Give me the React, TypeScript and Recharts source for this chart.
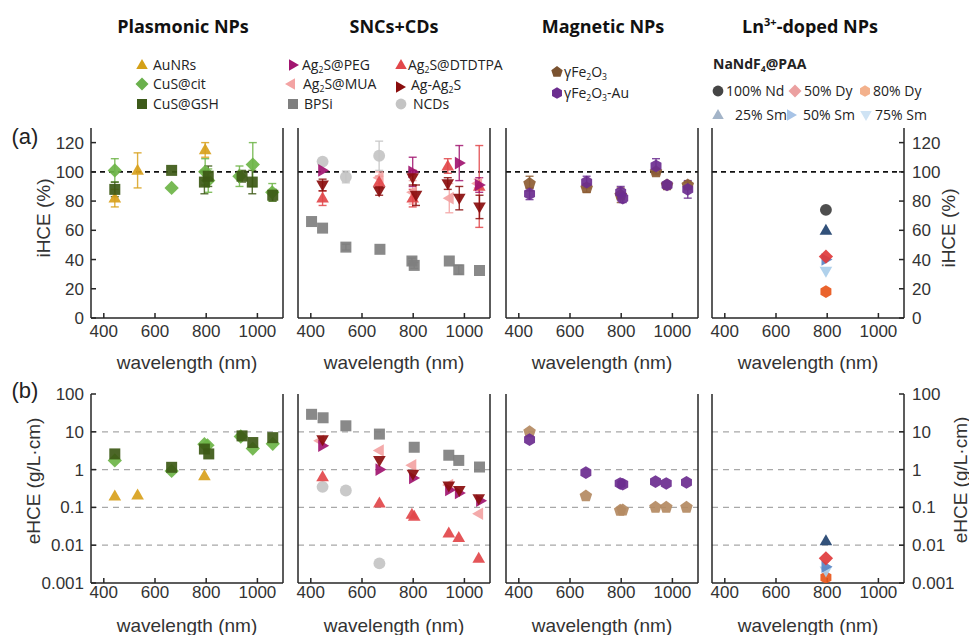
import React from 'react';
import { ScatterChart, Scatter, XAxis, YAxis, ErrorBar, ReferenceLine } from 'recharts';

// ---------- data: [wavelength (nm), value, error] ----------
// (a) iHCE (%)
const auNRsI = [[443, 82, 6], [532, 101, 12], [796, 115, 5]];
const cusCitI = [[443, 101, 8], [665, 89, 0], [796, 100, 9], [808, 94, 8], [930, 97, 7], [982, 105, 15], [1058, 86, 6]];
const cusGshI = [[443, 88, 5], [665, 101, 0], [793, 93, 8], [808, 97, 7], [940, 97, 4], [980, 93, 8], [1060, 84, 4]];

const bpsiI = [[403, 66, 0], [446, 61.5, 0], [537, 48.5, 2], [670, 47, 0], [795, 39, 2], [804, 36, 2], [941, 39, 0], [978, 33, 3], [1059, 32.5, 0]];
const ncdsI = [[446, 107, 0], [537, 96.5, 4], [667, 111, 10]];
const pegI = [[446, 101, 0], [798, 100, 10], [980, 106, 12], [1058, 91, 5]];
const dtdtpaI = [[446, 82, 5], [667, 93, 4], [798, 82, 6], [935, 104, 5], [1058, 90, 28]];
const muaI = [[667, 96, 4], [798, 86, 8], [941, 82, 10], [1052, 92, 3]];
const agAgI = [[446, 91, 4], [667, 87, 3], [798, 96, 5], [811, 84, 7], [935, 92, 4], [980, 82, 8], [1059, 76, 8]];

const feI = [[442, 92, 5], [665, 89, 3], [798, 84, 5], [936, 100, 2], [979, 91, 2], [1060, 91, 2]];
const feAuI = [[442, 85, 4], [665, 93, 4], [798, 86, 4], [806, 82, 3], [936, 104, 5], [979, 91, 2], [1060, 88, 6]];

const nd100I = [[795, 74, 0]];
const sm25I = [[795, 60, 0]];
const dy50I = [[795, 42, 0]];
const sm50I = [[795, 40, 0]];
const sm75I = [[795, 32, 0]];
const dy80I = [[795, 18, 0]];

// (b) eHCE (g/L·cm)
const auNRsE = [[443, 0.2], [532, 0.21], [793, 0.68]];
const cusCitE = [[443, 1.75], [665, 0.92], [793, 4.7], [805, 4.4], [935, 7.5], [982, 3.6], [1060, 4.8]];
const cusGshE = [[443, 2.6], [665, 1.15], [793, 3.5], [810, 2.6], [940, 7.8], [982, 5.2], [1060, 7.0]];

const bpsiE = [[403, 29], [448, 23.5], [537, 14.4], [668, 8.7], [804, 3.9], [939, 2.4], [978, 1.75], [1059, 1.17]];
const ncdsE = [[446, 0.35], [537, 0.28], [668, 0.0033]];
const pegE = [[446, 4.3], [670, 1.0], [801, 0.6], [942, 0.29], [980, 0.24], [1063, 0.15]];
const dtdtpaE = [[446, 0.64], [668, 0.13], [795, 0.065], [804, 0.058], [939, 0.021], [978, 0.016], [1056, 0.0045]];
const muaE = [[435, 5.8], [668, 3.2], [795, 1.3], [939, 0.39], [1056, 0.068]];
const agAgE = [[446, 6.2], [668, 1.75], [799, 0.76], [939, 0.37], [980, 0.28], [1056, 0.17]];

const feE = [[442, 10], [662, 0.2], [796, 0.083], [806, 0.085], [934, 0.1], [976, 0.1], [1055, 0.1]];
const feAuE = [[442, 6.2], [662, 0.83], [796, 0.43], [806, 0.41], [934, 0.48], [976, 0.43], [1055, 0.46]];

const sm25E = [[795, 0.013]];
const dy50E = [[795, 0.0045]];
const sm50E = [[795, 0.0027]];
const sm75E = [[795, 0.0021]];
const dy80E = [[795, 0.0014]];

// ---------- axes ----------
const X_DOMAIN = [350, 1100];
const X_TICKS = [400, 600, 800, 1000];
const A_DOMAIN = [0, 130];
const A_TICKS = [0, 20, 40, 60, 80, 100, 120];
const A_REF = [100];
const B_DOMAIN = [0.001, 100];
const B_TICKS = [0.001, 0.01, 0.1, 1, 10, 100];
const B_GRID = [0.01, 0.1, 1, 10];

// ---------- layout ----------
const COL_LEFT = [91, 298, 506, 712];
const BOX_W = 192;
const TOP_A = 128;
const H_A = 190;
const TOP_B = 394;
const H_B = 189;
const NUM_FONT = "'Liberation Sans', Arial, sans-serif";
const UI_FONT = "'Open Sans', 'Noto Sans', sans-serif";
const AXIS = { stroke: '#262626', strokeWidth: 1.5 };

// ---------- colours ----------
const C = {
  au: '#d8a11c', cit: '#6db446', gsh: '#3d5916',
  peg: '#a11570', dtd: '#e2474a', mua: '#f3a3a3', agag: '#8a0d0d', bpsi: '#7f7f7f', ncds: '#c4c4c4',
  fe: '#8d5c33', feB: '#b48a62', feAu: '#6b2d8f',
  nd: '#3f3f3f', sm25: '#21426f', dy50: '#e0393b', sm50: '#5a86c4', sm75: '#a9cde9', dy80: '#e8561a',
};

type Series = { kind: string; color: string; rows: number[][] };

const PANELS_A: Series[][] = [
  [
    { kind: 'up', color: C.au, rows: auNRsI },
    { kind: 'diamond', color: C.cit, rows: cusCitI },
    { kind: 'square', color: C.gsh, rows: cusGshI },
  ],
  [
    { kind: 'square', color: C.bpsi, rows: bpsiI },
    { kind: 'circle', color: C.ncds, rows: ncdsI },
    { kind: 'left', color: C.mua, rows: muaI },
    { kind: 'up', color: C.dtd, rows: dtdtpaI },
    { kind: 'right', color: C.peg, rows: pegI },
    { kind: 'down', color: C.agag, rows: agAgI },
  ],
  [
    { kind: 'pentagon', color: C.fe, rows: feI },
    { kind: 'hexagon', color: C.feAu, rows: feAuI },
  ],
  [
    { kind: 'circle', color: C.nd, rows: nd100I },
    { kind: 'up', color: C.sm25, rows: sm25I },
    { kind: 'right', color: C.sm50, rows: sm50I },
    { kind: 'diamond', color: C.dy50, rows: dy50I },
    { kind: 'down', color: C.sm75, rows: sm75I },
    { kind: 'hexagon', color: C.dy80, rows: dy80I },
  ],
];

const PANELS_B: Series[][] = [
  [
    { kind: 'up', color: C.au, rows: auNRsE },
    { kind: 'diamond', color: C.cit, rows: cusCitE },
    { kind: 'square', color: C.gsh, rows: cusGshE },
  ],
  [
    { kind: 'square', color: C.bpsi, rows: bpsiE },
    { kind: 'circle', color: C.ncds, rows: ncdsE },
    { kind: 'up', color: C.dtd, rows: dtdtpaE },
    { kind: 'left', color: C.mua, rows: muaE },
    { kind: 'right', color: C.peg, rows: pegE },
    { kind: 'down', color: C.agag, rows: agAgE },
  ],
  [
    { kind: 'pentagon', color: C.feB, rows: feE },
    { kind: 'hexagon', color: C.feAu, rows: feAuE },
  ],
  [
    { kind: 'hexagon', color: C.dy80, rows: dy80E },
    { kind: 'down', color: C.sm75, rows: sm75E },
    { kind: 'right', color: C.sm50, rows: sm50E },
    { kind: 'diamond', color: C.dy50, rows: dy50E },
    { kind: 'up', color: C.sm25, rows: sm25E },
  ],
];

// ---------- marker ----------
function poly(cx: number, cy: number, r: number, pts: number[][]) {
  return pts.map(([a, b]) => `${cx + a * r},${cy + b * r}`).join(' ');
}
function regular(n: number, rad: number) {
  const out: number[][] = [];
  for (let i = 0; i < n; i++) {
    const a = (-90 + (360 / n) * i) * Math.PI / 180;
    out.push([Math.cos(a) * rad, Math.sin(a) * rad]);
  }
  return out;
}
function Mark({ kind, cx, cy, fill, s = 11, opacity = 0.92 }: any) {
  if (cx == null || cy == null) return null;
  const r = s / 2;
  const common = { fill, fillOpacity: opacity, stroke: 'none' };
  switch (kind) {
    case 'circle':
      return <circle cx={cx} cy={cy} r={r * 1.08} {...common} />;
    case 'square':
      return <rect x={cx - r} y={cy - r} width={s} height={s} {...common} />;
    case 'up':
      return <polygon points={poly(cx, cy, r, [[0, -1.2], [1.15, 0.8], [-1.15, 0.8]])} {...common} />;
    case 'down':
      return <polygon points={poly(cx, cy, r, [[0, 1.2], [1.15, -0.8], [-1.15, -0.8]])} {...common} />;
    case 'right':
      return <polygon points={poly(cx, cy, r, [[1.2, 0], [-0.8, -1.15], [-0.8, 1.15]])} {...common} />;
    case 'left':
      return <polygon points={poly(cx, cy, r, [[-1.2, 0], [0.8, -1.15], [0.8, 1.15]])} {...common} />;
    case 'diamond':
      return <polygon points={poly(cx, cy, r, [[0, -1.3], [1.3, 0], [0, 1.3], [-1.3, 0]])} {...common} />;
    case 'pentagon':
      return <polygon points={poly(cx, cy, r, regular(5, 1.2))} {...common} />;
    case 'hexagon':
      return <polygon points={poly(cx, cy, r, regular(6, 1.15))} {...common} />;
    default:
      return null;
  }
}

const toPts = (rows: number[][]) => rows.map(([x, y, e]) => ({ x, y, e: e ?? 0 }));

// ---------- panel ----------
function Panel({ col, row, series }: { col: number; row: 'a' | 'b'; series: Series[] }) {
  const isA = row === 'a';
  const top = isA ? TOP_A : TOP_B;
  const h = isA ? H_A : H_B;
  const left = COL_LEFT[col];
  const tickStyle = { fill: '#333', fontSize: 17, fontFamily: NUM_FONT };
  const yProps: any = isA
    ? { type: 'number', domain: A_DOMAIN, ticks: A_TICKS }
    : { type: 'number', scale: 'log', domain: B_DOMAIN, ticks: B_TICKS };
  return (
    <div style={{ position: 'absolute', left: left - 50, top: top - 10 }}>
      <ScatterChart width={BOX_W + 100} height={h + 40} margin={{ top: 10, right: 0, bottom: 0, left: 0 }}>
        <XAxis
          type="number"
          dataKey="x"
          domain={X_DOMAIN}
          ticks={X_TICKS}
          interval={0}
          allowDataOverflow
          height={30}
          tickSize={-5}
          tickMargin={isA ? 12 : 8}
          axisLine={AXIS}
          tickLine={AXIS}
          tick={tickStyle}
        />
        <XAxis xAxisId="t" orientation="top" type="number" domain={X_DOMAIN} height={0} tick={false} tickLine={false} axisLine={AXIS} />
        <YAxis
          {...yProps}
          dataKey="y"
          width={50}
          interval={0}
          allowDataOverflow
          tickSize={-5}
          tickMargin={12}
          axisLine={AXIS}
          tickLine={AXIS}
          tick={col === 0 ? tickStyle : false}
        />
        <YAxis
          {...yProps}
          yAxisId="r"
          orientation="right"
          width={50}
          interval={0}
          allowDataOverflow
          tickSize={-5}
          tickMargin={13}
          axisLine={AXIS}
          tickLine={AXIS}
          tick={col === 3 ? { ...tickStyle, textAnchor: 'start' } : false}
        />
        {isA
          ? A_REF.map((v) => <ReferenceLine key={v} y={v} stroke="#111" strokeWidth={1.7} strokeDasharray="5 4" />)
          : B_GRID.map((v) => <ReferenceLine key={v} y={v} stroke="#a8a8a8" strokeWidth={1.2} strokeDasharray="6 5" />)}
        {series.map((s, i) => (
          <Scatter
            key={i}
            data={toPts(s.rows)}
            isAnimationActive={false}
            legendType="none"
            shape={(p: any) => <Mark kind={s.kind} cx={p.cx} cy={p.cy} fill={s.color} />}
          >
            {isA && <ErrorBar dataKey="e" direction="y" width={4} stroke={s.color} strokeWidth={1.4} strokeOpacity={0.85} />}
          </Scatter>
        ))}
      </ScatterChart>
    </div>
  );
}

// ---------- legend helpers ----------
// parts alternate: normal, subscript, normal, subscript, ...
function Chem({ parts }: { parts: string[] }) {
  return (
    <>
      {parts.map((p, i) => {
        if (i === 0) return <tspan key={i}>{p}</tspan>;
        const isSub = i % 2 === 1;
        return (
          <tspan key={i} dy={isSub ? 2.5 : -2.5} fontSize={isSub ? '0.62em' : undefined}>{p}</tspan>
        );
      })}
    </>
  );
}
function LegItem({ mx, my, kind, color, tx, ty, children, size = 14, s = 10 }: any) {
  return (
    <g>
      <Mark kind={kind} cx={mx} cy={my} fill={color} s={s} opacity={1} />
      <text x={tx} y={ty} fontSize={size} fontFamily={UI_FONT} fill="#222">{children}</text>
    </g>
  );
}

const TITLES = ['Plasmonic NPs', 'SNCs+CDs', 'Magnetic NPs'];
const TITLE_X = [183, 394, 603];

function Overlay() {
  const colCenters = COL_LEFT.map((l) => l + BOX_W / 2);
  return (
    <svg width={969} height={635} style={{ position: 'absolute', left: 0, top: 0, pointerEvents: 'none' }}>
      {/* titles */}
      {TITLES.map((t, i) => (
        <text key={t} x={TITLE_X[i]} y={33} textAnchor="middle" fontSize={18} fontWeight={700} fontFamily={UI_FONT} fill="#111">{t}</text>
      ))}
      <text x={810} y={33} textAnchor="middle" fontSize={18} fontWeight={700} fontFamily={UI_FONT} fill="#111">
        <tspan>Ln</tspan><tspan fontSize={11} dy={-7}>3+</tspan><tspan dy={7}>-doped NPs</tspan>
      </text>

      {/* legend: plasmonic */}
      <LegItem mx={142} my={65} kind="up" color="#d4a017" tx={153} ty={70}>AuNRs</LegItem>
      <LegItem mx={142} my={84} kind="diamond" color="#6ab04c" tx={153} ty={89}>CuS@cit</LegItem>
      <LegItem mx={142} my={104} kind="square" color="#3d5a1a" tx={153} ty={109}>CuS@GSH</LegItem>

      {/* legend: SNCs + CDs */}
      <LegItem mx={293} my={65} kind="right" color={C.peg} tx={302} ty={70}><Chem parts={['Ag', '2', 'S@PEG']} /></LegItem>
      <LegItem mx={401} my={65} kind="up" color={C.dtd} tx={408} ty={70}><Chem parts={['Ag', '2', 'S@DTDTPA']} /></LegItem>
      <LegItem mx={291} my={84} kind="left" color={C.mua} tx={303} ty={89}><Chem parts={['Ag', '2', 'S@MUA']} /></LegItem>
      <LegItem mx={400} my={87} kind="right" color={C.agag} tx={411} ty={90}><Chem parts={['Ag-Ag', '2', 'S']} /></LegItem>
      <LegItem mx={293} my={104} kind="square" color={C.bpsi} tx={304} ty={109}>BPSi</LegItem>
      <LegItem mx={401} my={104} kind="circle" color={C.ncds} tx={413} ty={109}>NCDs</LegItem>

      {/* legend: magnetic */}
      <LegItem mx={557} my={72} kind="pentagon" color="#7a5230" tx={564} ty={77}><Chem parts={['γFe', '2', 'O', '3']} /></LegItem>
      <LegItem mx={557} my={93} kind="hexagon" color={C.feAu} tx={564} ty={98}><Chem parts={['γFe', '2', 'O', '3', '-Au']} /></LegItem>

      {/* legend: Ln-doped */}
      <text x={713} y={69} fontSize={14} fontWeight={700} fontFamily={UI_FONT} fill="#222"><Chem parts={['NaNdF', '4', '@PAA']} /></text>
      <LegItem mx={718} my={91} kind="circle" color="#454545" tx={726} ty={96}>100% Nd</LegItem>
      <LegItem mx={795} my={91} kind="diamond" color="#eba0a0" tx={804} ty={96}>50% Dy</LegItem>
      <LegItem mx={865} my={91} kind="hexagon" color="#f3b18c" tx={873} ty={96}>80% Dy</LegItem>
      <LegItem mx={718} my={115} kind="up" color="#a3b4c8" tx={735} ty={120}>25% Sm</LegItem>
      <LegItem mx={791} my={115} kind="right" color="#a7c3e6" tx={803} ty={120}>50% Sm</LegItem>
      <LegItem mx={866} my={115} kind="down" color="#cfe3f4" tx={875} ty={120}>75% Sm</LegItem>

      {/* panel letters */}
      <text x={25} y={136} textAnchor="middle" dominantBaseline="central" fontSize={22} fontFamily={NUM_FONT} fill="#222">(a)</text>
      <text x={25} y={390} textAnchor="middle" dominantBaseline="central" fontSize={22} fontFamily={NUM_FONT} fill="#222">(b)</text>

      {/* axis titles */}
      {colCenters.map((cx, i) => (
        <g key={i}>
          <text x={cx} y={362} textAnchor="middle" dominantBaseline="central" fontSize={19} fontFamily={NUM_FONT} fill="#333">wavelength (nm)</text>
          <text x={cx} y={625} textAnchor="middle" dominantBaseline="central" fontSize={19} fontFamily={NUM_FONT} fill="#333">wavelength (nm)</text>
        </g>
      ))}
      <text transform="translate(43,218) rotate(-90)" textAnchor="middle" dominantBaseline="central" fontSize={19} fontFamily={NUM_FONT} fill="#333">iHCE (%)</text>
      <text transform="translate(948,228) rotate(-90)" textAnchor="middle" dominantBaseline="central" fontSize={19} fontFamily={NUM_FONT} fill="#333">iHCE (%)</text>
      <text transform="translate(33,481) rotate(-90)" textAnchor="middle" dominantBaseline="central" fontSize={19} fontFamily={NUM_FONT} fill="#333">eHCE (g/L·cm)</text>
      <text transform="translate(960,480) rotate(-90)" textAnchor="middle" dominantBaseline="central" fontSize={19} fontFamily={NUM_FONT} fill="#333">eHCE (g/L·cm)</text>
    </svg>
  );
}

export default function App() {
  return (
    <div style={{ position: 'absolute', left: 0, top: 0, width: 969, height: 635, background: '#fff', overflow: 'hidden' }}>
      {PANELS_A.map((s, i) => <Panel key={'a' + i} col={i} row="a" series={s} />)}
      {PANELS_B.map((s, i) => <Panel key={'b' + i} col={i} row="b" series={s} />)}
      <Overlay />
    </div>
  );
}
